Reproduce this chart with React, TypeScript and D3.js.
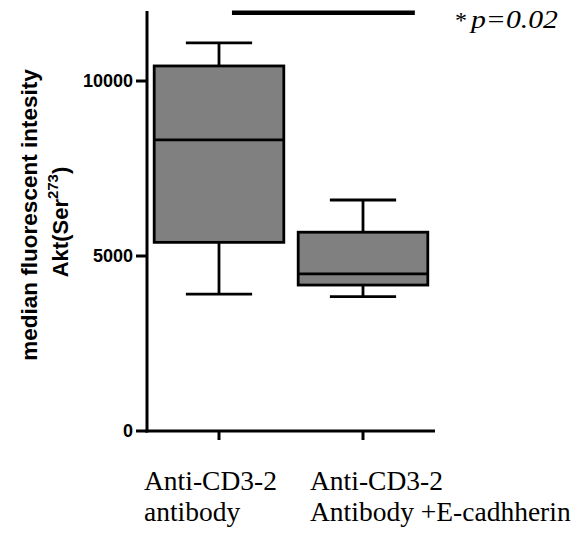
import React from "react";
import * as d3 from "d3";

const categories = ["Anti-CD3-2 antibody", "Anti-CD3-2 Antibody +E-cadhherin"];
const labelLines = [["Anti-CD3-2", "antibody"], ["Anti-CD3-2", "Antibody +E-cadhherin"]];
const whiskerLow = [3910, 3840];
const q1 = [5390, 4170];
const median = [8320, 4490];
const q3 = [10430, 5680];
const whiskerHigh = [11090, 6600];
const yTicks = [0, 5000, 10000];
const yDomain = [0, 12000];
const sigText = "p=0.02";

const W = 580, H = 533;
const plotLeft = 147, plotRight = 435, plotTop = 11, plotBottom = 431;

export default function App() {
  const x = d3.scaleLinear().domain([0, categories.length]).range([plotLeft, plotRight]);
  const y = d3.scaleLinear().domain(yDomain).range([plotBottom, plotTop]);
  const boxW = 0.9, capW = 0.46;
  const labelDx = [-75, -53];
  const sigY = y(11950);
  return (
    <svg width={W} height={H} style={{ position: "absolute", left: 0, top: 0, background: "#fff" }}>
      {/* y-axis title */}
      <g transform={`translate(37, 215) rotate(-90)`}>
        <text textAnchor="middle" fontFamily="Liberation Sans, Arial, sans-serif" fontWeight="bold" fontSize={22.5} fill="#000">
          median fluorescent intesity
        </text>
      </g>
      <g transform={`translate(68, 222) rotate(-90)`}>
        <text textAnchor="middle" fontFamily="Liberation Sans, Arial, sans-serif" fontWeight="bold" fontSize={22} fill="#000">
          Akt(Ser<tspan fontSize={15} dy={-10}>273</tspan><tspan dy={10}>)</tspan>
        </text>
      </g>
      {/* boxes */}
      {categories.map((c, i) => {
        const cx = x(i + 0.5);
        const bw = x(boxW) - x(0);
        const cw = x(capW) - x(0);
        return (
          <g key={c} stroke="#000" strokeWidth={2.8}>
            <line x1={cx} x2={cx} y1={y(whiskerHigh[i])} y2={y(q3[i])} />
            <line x1={cx} x2={cx} y1={y(q1[i])} y2={y(whiskerLow[i])} />
            <line x1={cx - cw / 2} x2={cx + cw / 2} y1={y(whiskerHigh[i])} y2={y(whiskerHigh[i])} />
            <line x1={cx - cw / 2} x2={cx + cw / 2} y1={y(whiskerLow[i])} y2={y(whiskerLow[i])} />
            <rect x={cx - bw / 2} y={y(q3[i])} width={bw} height={y(q1[i]) - y(q3[i])} fill="#808080" />
            <line x1={cx - bw / 2} x2={cx + bw / 2} y1={y(median[i])} y2={y(median[i])} />
          </g>
        );
      })}
      {/* axes */}
      <g stroke="#000" strokeWidth={3}>
        <line x1={plotLeft} x2={plotLeft} y1={plotTop} y2={plotBottom + 1.5} />
        <line x1={plotLeft - 1.5} x2={plotRight} y1={plotBottom} y2={plotBottom} />
        {yTicks.map((t) => (
          <line key={t} x1={plotLeft - 11} x2={plotLeft} y1={y(t)} y2={y(t)} />
        ))}
        {categories.map((c, i) => (
          <line key={c} x1={x(i + 0.5)} x2={x(i + 0.5)} y1={plotBottom} y2={plotBottom + 9} />
        ))}
      </g>
      {yTicks.map((t) => (
        <text key={t} x={plotLeft - 14} y={y(t)} dy="0.36em" textAnchor="end"
          fontFamily="Liberation Sans, Arial, sans-serif" fontWeight="bold" fontSize={18} fill="#000">
          {t}
        </text>
      ))}
      {labelLines.map((lines, i) => (
        <text key={i} x={x(i + 0.5) + labelDx[i]} y={490} fontFamily="Liberation Serif, Times New Roman, serif"
          fontSize={27.5} fill="#000">
          {lines.map((l, j) => (
            <tspan key={j} x={x(i + 0.5) + labelDx[i]} dy={j === 0 ? 0 : 31}>{l}</tspan>
          ))}
        </text>
      ))}
      {/* significance */}
      <line x1={x(0.59)} x2={x(1.86)} y1={sigY} y2={sigY} stroke="#000" strokeWidth={4.5} />
      <text x={455} y={28} fontFamily="Liberation Serif, Times New Roman, serif" fontSize={24} fill="#000">*</text>
      <text x={471} y={28} fontFamily="Liberation Serif, Times New Roman, serif" fontSize={25} fontStyle="italic"
        fill="#000" textLength={87} lengthAdjust="spacingAndGlyphs">
        {sigText}
      </text>
    </svg>
  );
}
